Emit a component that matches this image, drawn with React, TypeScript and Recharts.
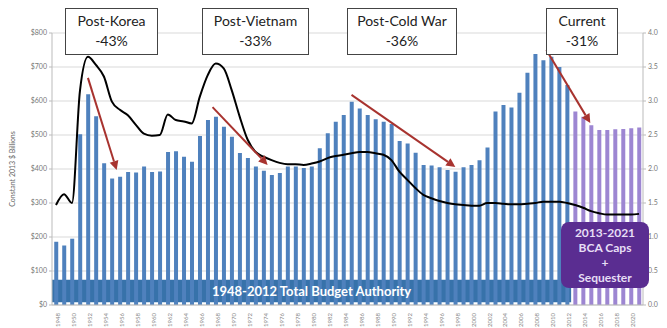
import {
  ComposedChart,
  Bar,
  Line,
  XAxis,
  YAxis,
  CartesianGrid,
  ReferenceLine,
  ReferenceArea,
  Cell,
} from "recharts";

const years = [
  1948, 1949, 1950, 1951, 1952, 1953, 1954, 1955, 1956, 1957, 1958, 1959, 1960,
  1961, 1962, 1963, 1964, 1965, 1966, 1967, 1968, 1969, 1970, 1971, 1972, 1973,
  1974, 1975, 1976, 1977, 1978, 1979, 1980, 1981, 1982, 1983, 1984, 1985, 1986,
  1987, 1988, 1989, 1990, 1991, 1992, 1993, 1994, 1995, 1996, 1997, 1998, 1999,
  2000, 2001, 2002, 2003, 2004, 2005, 2006, 2007, 2008, 2009, 2010, 2011, 2012,
  2013, 2014, 2015, 2016, 2017, 2018, 2019, 2020, 2021,
];

// budget authority, constant 2013 $ billions
const budget = [
  186, 175, 195, 502, 620, 555, 417, 372, 377, 391, 390, 407, 391,
  393, 450, 452, 436, 421, 497, 544, 554, 524, 495, 447, 432, 407,
  395, 382, 388, 407, 407, 403, 407, 461, 505, 539, 559, 598, 578,
  559, 546, 539, 532, 482, 475, 448, 412, 410, 405, 397, 392, 405,
  412, 426, 463, 569, 588, 581, 624, 683, 738, 720, 730, 700, 647,
  569, 554, 529, 515, 515, 517, 518, 520, 522,
];

// black line, right axis
const share = [
  1.47, 1.63, 1.5, 3.15, 3.65, 3.53, 3.36, 2.99, 2.87, 2.79, 2.65, 2.52, 2.49,
  2.5, 2.8, 2.72, 2.7, 2.67, 3.06, 3.38, 3.55, 3.48, 3.16, 2.77, 2.43, 2.25,
  2.18, 2.13, 2.09, 2.07, 2.07, 2.06, 2.08, 2.11, 2.16, 2.19, 2.21, 2.23, 2.25,
  2.25, 2.23, 2.21, 2.13, 1.96, 1.84, 1.72, 1.62, 1.57, 1.53, 1.5, 1.48, 1.47,
  1.46, 1.46, 1.5, 1.5, 1.49, 1.48, 1.48, 1.49, 1.5, 1.52, 1.52, 1.52, 1.5,
  1.47, 1.43, 1.38, 1.35, 1.33, 1.33, 1.33, 1.33, 1.34,
];

const leftTicks = [0, 100, 200, 300, 400, 500, 600, 700, 800];
const rightTicks = [0, 0.5, 1, 1.5, 2, 2.5, 3, 3.5, 4];

const eraTitles = ["Post-Korea", "Post-Vietnam", "Post-Cold War", "Current"];
const eraChanges = ["-43%", "-33%", "-36%", "-31%"];

// drawdown arrows: [year, $B] start and end
const arrows = [
  { from: [1952, 668], to: [1955.6, 397] },
  { from: [1967.6, 582], to: [1974.5, 412] },
  { from: [1985, 618], to: [1998, 406] },
  { from: [2009.4, 750], to: [2014.9, 535] },
];

const data = years.map((year, i) => ({ year, budget: budget[i], share: share[i] }));

const boxPos = [
  { left: 65, width: 93 },
  { left: 202, width: 107 },
  { left: 347, width: 110 },
  { left: 546, width: 72 },
];

function ArrowShape(props: any) {
  const { x1, y1, x2, y2 } = props;
  if ([x1, y1, x2, y2].some((v) => v == null || isNaN(v))) return <g />;
  const ang = Math.atan2(y2 - y1, x2 - x1);
  const head = 9;
  const half = 4.5;
  const bx = x2 - head * Math.cos(ang);
  const by = y2 - head * Math.sin(ang);
  const px = -Math.sin(ang) * half;
  const py = Math.cos(ang) * half;
  return (
    <g>
      <line x1={x1} y1={y1} x2={bx} y2={by} stroke="#a8332f" strokeWidth={2} />
      <polygon
        points={`${x2},${y2} ${bx + px},${by + py} ${bx - px},${by - py}`}
        fill="#a8332f"
      />
    </g>
  );
}

export default function App() {
  return (
    <div
      style={{
        position: "absolute",
        left: 0,
        top: 0,
        width: 667,
        height: 328,
        background: "#fff",
        fontFamily: "Lato, 'Noto Sans', sans-serif",
      }}
    >
      <ComposedChart
        width={667}
        height={328}
        data={data}
        margin={{ top: 33, right: 4, bottom: 3, left: 8 }}
        barCategoryGap="28%"
      >
        <CartesianGrid vertical={false} stroke="#d9d9d9" yAxisId="left" />
        <XAxis
          dataKey="year"
          interval={1}
          angle={-90}
          textAnchor="end"
          height={20}
          tick={{ fontSize: 6, fill: "#888" }}
          tickLine={false}
          axisLine={{ stroke: "#bbb" }}
        />
        <XAxis
          xAxisId="yr"
          type="number"
          dataKey="year"
          domain={[1947.5, 2021.5]}
          allowDataOverflow
          hide
        />
        <YAxis
          yAxisId="left"
          domain={[0, 800]}
          ticks={leftTicks}
          width={44}
          tick={{ fontSize: 7, fill: "#777" }}
          tickSize={3}
          tickLine={{ stroke: "#bbb" }}
          axisLine={{ stroke: "#bbb" }}
          tickFormatter={(v) => `$${v}`}
          label={{
            value: "Constant 2013 $ Billions",
            angle: -90,
            position: "insideLeft",
            style: { fontSize: 7, fill: "#666", textAnchor: "middle" },
          }}
        />
        <YAxis
          yAxisId="right"
          orientation="right"
          domain={[0, 4]}
          ticks={rightTicks}
          width={20}
          tick={{ fontSize: 7, fill: "#777" }}
          tickSize={3}
          tickLine={{ stroke: "#bbb" }}
          axisLine={{ stroke: "#bbb" }}
          tickFormatter={(v) => v.toFixed(1)}
        />
        <Bar dataKey="budget" yAxisId="left" isAnimationActive={false}>
          {data.map((d) => (
            <Cell key={d.year} fill={d.year > 2012 ? "#9d86d2" : "#4f81bd"} />
          ))}
        </Bar>
        <ReferenceArea
          xAxisId="yr"
          yAxisId="left"
          x1={1947.5}
          x2={2012.5}
          y1={8}
          y2={74}
          fill="#1b5e9e"
          fillOpacity={0.88}
          stroke="none"
          label={{
            value: "1948-2012 Total Budget Authority",
            fill: "#fff",
            fontSize: 13,
            fontWeight: 700,
          }}
        />
        <Line
          yAxisId="right"
          dataKey="share"
          type="monotone"
          stroke="#000"
          strokeWidth={2}
          dot={false}
          isAnimationActive={false}
        />
        {arrows.map((a, i) => (
          <ReferenceLine
            key={i}
            xAxisId="yr"
            yAxisId="left"
            segment={[
              { x: a.from[0], y: a.from[1] },
              { x: a.to[0], y: a.to[1] },
            ]}
            shape={ArrowShape}
          />
        ))}
      </ComposedChart>

      {eraTitles.map((t, i) => (
        <div
          key={t}
          style={{
            position: "absolute",
            top: 8,
            left: boxPos[i].left,
            width: boxPos[i].width,
            height: 47,
            boxSizing: "border-box",
            border: "1.5px solid #444",
            background: "#fff",
            color: "#222",
            fontSize: 14,
            lineHeight: "20px",
            textAlign: "center",
            paddingTop: 2,
          }}
        >
          <div>{t}</div>
          <div>{eraChanges[i]}</div>
        </div>
      ))}

      <div
        style={{
          position: "absolute",
          left: 561,
          top: 222,
          width: 88,
          height: 66,
          boxSizing: "border-box",
          background: "#5a2d91",
          borderRadius: 8,
          color: "#e6def5",
          fontSize: 12,
          fontWeight: 700,
          lineHeight: "15px",
          textAlign: "center",
          paddingTop: 3,
        }}
      >
        <div>2013-2021</div>
        <div>BCA Caps</div>
        <div>+</div>
        <div>Sequester</div>
      </div>
    </div>
  );
}
